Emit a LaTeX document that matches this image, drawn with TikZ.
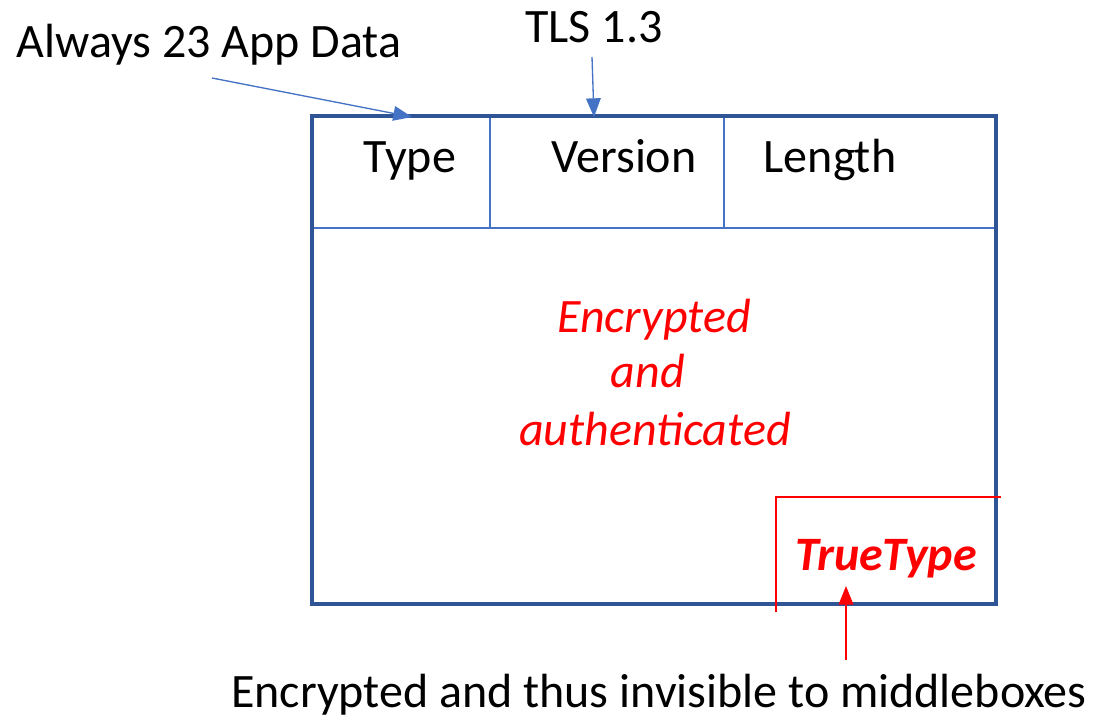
\documentclass[tikz,border=0pt]{standalone}
\usepackage{fontspec}
\setmainfont{Carlito}
\usetikzlibrary{arrows.meta}
\definecolor{boxblue}{HTML}{2F5597}
\definecolor{lineblue}{HTML}{4472C4}
\definecolor{myred}{HTML}{FF0000}
\tikzset{
  lbl/.style={inner sep=0pt, anchor=base, font=\fontsize{36}{43}\selectfont},
  redlbl/.style={lbl, text=myred, font=\fontsize{36}{43}\selectfont\itshape},
  bluearrow/.style={draw=lineblue, line width=1pt, -{Triangle[length=14pt,width=11pt]}},
  redarrow/.style={draw=myred, line width=1.2pt, -{Triangle[length=14pt,width=11pt]}},
}
\begin{document}
\begin{tikzpicture}[x=0.75pt,y=-0.75pt]
\useasboundingbox (0,0) rectangle (1105,725);
% main box
\draw[lineblue, line width=1pt] (312,228) -- (996,228);
\draw[lineblue, line width=1pt] (490,116) -- (490,228);
\draw[lineblue, line width=1pt] (724,116) -- (724,228);
\draw[boxblue, line width=2.6pt] (312,116) rectangle (996,604);
% red corner lines
\draw[myred, line width=1pt] (776,612) -- (776,497) -- (1001,497);
% texts
\node[lbl] (always) at (209,57) {Always 23 App Data};
\node[lbl] (tls) at (594,42) {TLS 1.3};
\node[lbl] (type) at (410,172) {Type};
\node[lbl] (version) at (624,172) {Version};
\node[lbl] (length) at (830,172) {Length};
\node[redlbl] (enc) at (654,332) {Encrypted};
\node[redlbl] (and) at (648,387) {and};
\node[redlbl] (auth) at (655,445) {authenticated};
\node[lbl, text=myred, font=\fontsize{36}{43}\selectfont\bfseries\itshape] (tt) at (886,570) {TrueType};
\node[lbl] (bottom) at (659,707) {Encrypted and thus invisible to middleboxes};
% arrows
\coordinate (a1s) at (212,78);
\coordinate (a1e) at (412,117);
\coordinate (a2s) at (592,57);
\coordinate (a2e) at (594,117);
\coordinate (a3s) at (846,660);
\coordinate (a3e) at (846,586);
\draw[bluearrow] (a1s) -- (a1e);
\draw[bluearrow] (a2s) -- (a2e);
\draw[redarrow] (a3s) -- (a3e);
\end{tikzpicture}
\end{document}
